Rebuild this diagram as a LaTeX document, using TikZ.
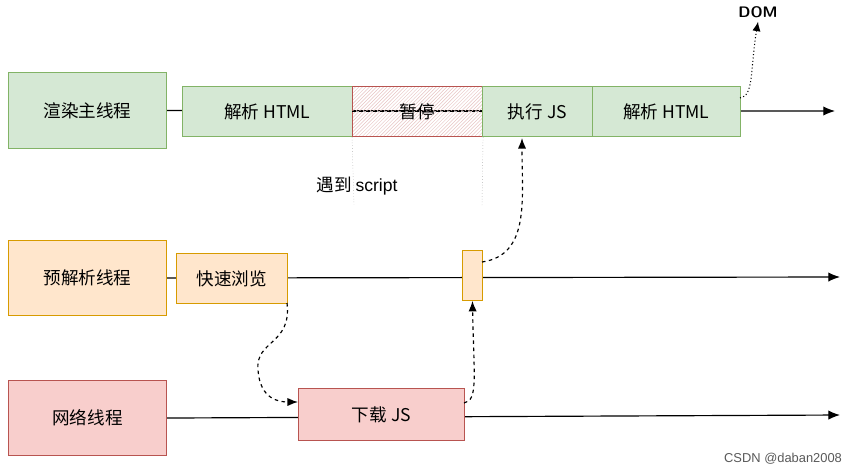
\documentclass[tikz,border=0pt]{standalone}
\usepackage{fontspec}
\setmainfont{Liberation Sans}
\newfontfamily\cjk{Noto Sans CJK SC}
\usetikzlibrary{patterns,arrows.meta}
\definecolor{mainfill}{HTML}{D5E8D4}
\definecolor{maindraw}{HTML}{82B366}
\definecolor{prefill}{HTML}{FFE6CC}
\definecolor{predraw}{HTML}{D79B00}
\definecolor{netfill}{HTML}{F8CECC}
\definecolor{netdraw}{HTML}{B85450}
\tikzset{
  lane/.style={draw=#1draw,fill=#1fill,line width=.9pt,inner sep=0pt,font=\cjk\fontsize{15}{15}\selectfont},
  task/.style={draw=#1draw,fill=#1fill,line width=.7pt,inner sep=0pt,font=\cjk\fontsize{15}{15}\selectfont},
  flow/.style={-{Latex[length=10pt,width=8pt]},line width=1pt},
  hop/.style={-{Latex[length=9pt,width=7pt]},dashed,line width=1pt},
}
\begin{document}
\begin{tikzpicture}[x=0.03cm,y=-0.03cm]
\useasboundingbox (0,0) rectangle (853,474);
% lanes
\node[lane=main,minimum width=158*0.03cm,minimum height=76*0.03cm,anchor=north west] (mainT) at (8,72) {渲染主线程};
\node[lane=pre,minimum width=158*0.03cm,minimum height=75*0.03cm,anchor=north west] (preT) at (8,240) {预解析线程};
\node[lane=net,minimum width=158*0.03cm,minimum height=75*0.03cm,anchor=north west] (netT) at (8,380) {网络线程};
\coordinate (mainE) at (835,111);
\coordinate (preE) at (840,277);
\coordinate (netE) at (840,415);
\draw[flow] (mainT.east) -- (mainE);
\draw[flow] (preT.east) -- (preE);
\draw[flow] (netT.east) -- (netE);
% main thread tasks
\node[task=main,minimum width=170*0.03cm,minimum height=50*0.03cm,anchor=north west] (parseA) at (182,86) {解析 HTML};
\node[fill=white,draw=netdraw,line width=.9pt,pattern=north east lines,pattern color=netdraw!35,minimum width=130*0.03cm,minimum height=50*0.03cm,anchor=north west,inner sep=0pt,font=\cjk\fontsize{15}{15}\selectfont] (pause) at (352,86) {暂停};
\draw[dashed,line width=.7pt] (pause.west) -- (pause.east);
\node[task=main,minimum width=110*0.03cm,minimum height=50*0.03cm,anchor=north west] (runJS) at (482,86) {执行 JS};
\node[task=main,minimum width=148*0.03cm,minimum height=50*0.03cm,anchor=north west] (parseB) at (592,86) {解析 HTML};
\node[font=\sffamily\bfseries\fontsize{13}{13}\selectfont] (dom) at (758,12) {DOM};
\draw[-{Latex[length=8pt,width=7pt]},dotted,line width=.9pt] (740,98) .. controls (754,96) and (750,70) .. (dom.south);
% script marks
\coordinate (mkA) at (354,205);
\coordinate (mkB) at (482,205);
\draw[dotted,gray] (pause.south west) -- (mkA);
\draw[dotted,gray] (pause.south east) -- (mkB);
\node[font=\fontsize{15}{15}\selectfont] (meet) at (357,186) {\cjk 遇到\ \rmfamily script};
% preload thread
\node[task=pre,minimum width=111*0.03cm,minimum height=50*0.03cm,anchor=north west] (scan) at (176,253) {快速浏览};
\node[task=pre,minimum width=20*0.03cm,minimum height=50*0.03cm,anchor=north west] (ready) at (462,250) {};
% network thread
\node[task=net,minimum width=166*0.03cm,minimum height=52*0.03cm,anchor=north west] (fetch) at (298,388) {下载 JS};
% hops
\draw[hop] (287,303) .. controls (292,345) and (255,340) .. (258,370) .. controls (260,400) and (280,402) .. (fetch.west |- 0,402);
\draw[hop] (464,403) .. controls (478,400) and (474,380) .. (ready.south);
\draw[hop] (482,262) .. controls (530,255) and (522,200) .. (522,138);
\node[font=\fontsize{11}{11}\selectfont,text=gray!70!black,anchor=east] (mark) at (846,459) {CSDN @daban2008};
\end{tikzpicture}
\end{document}
